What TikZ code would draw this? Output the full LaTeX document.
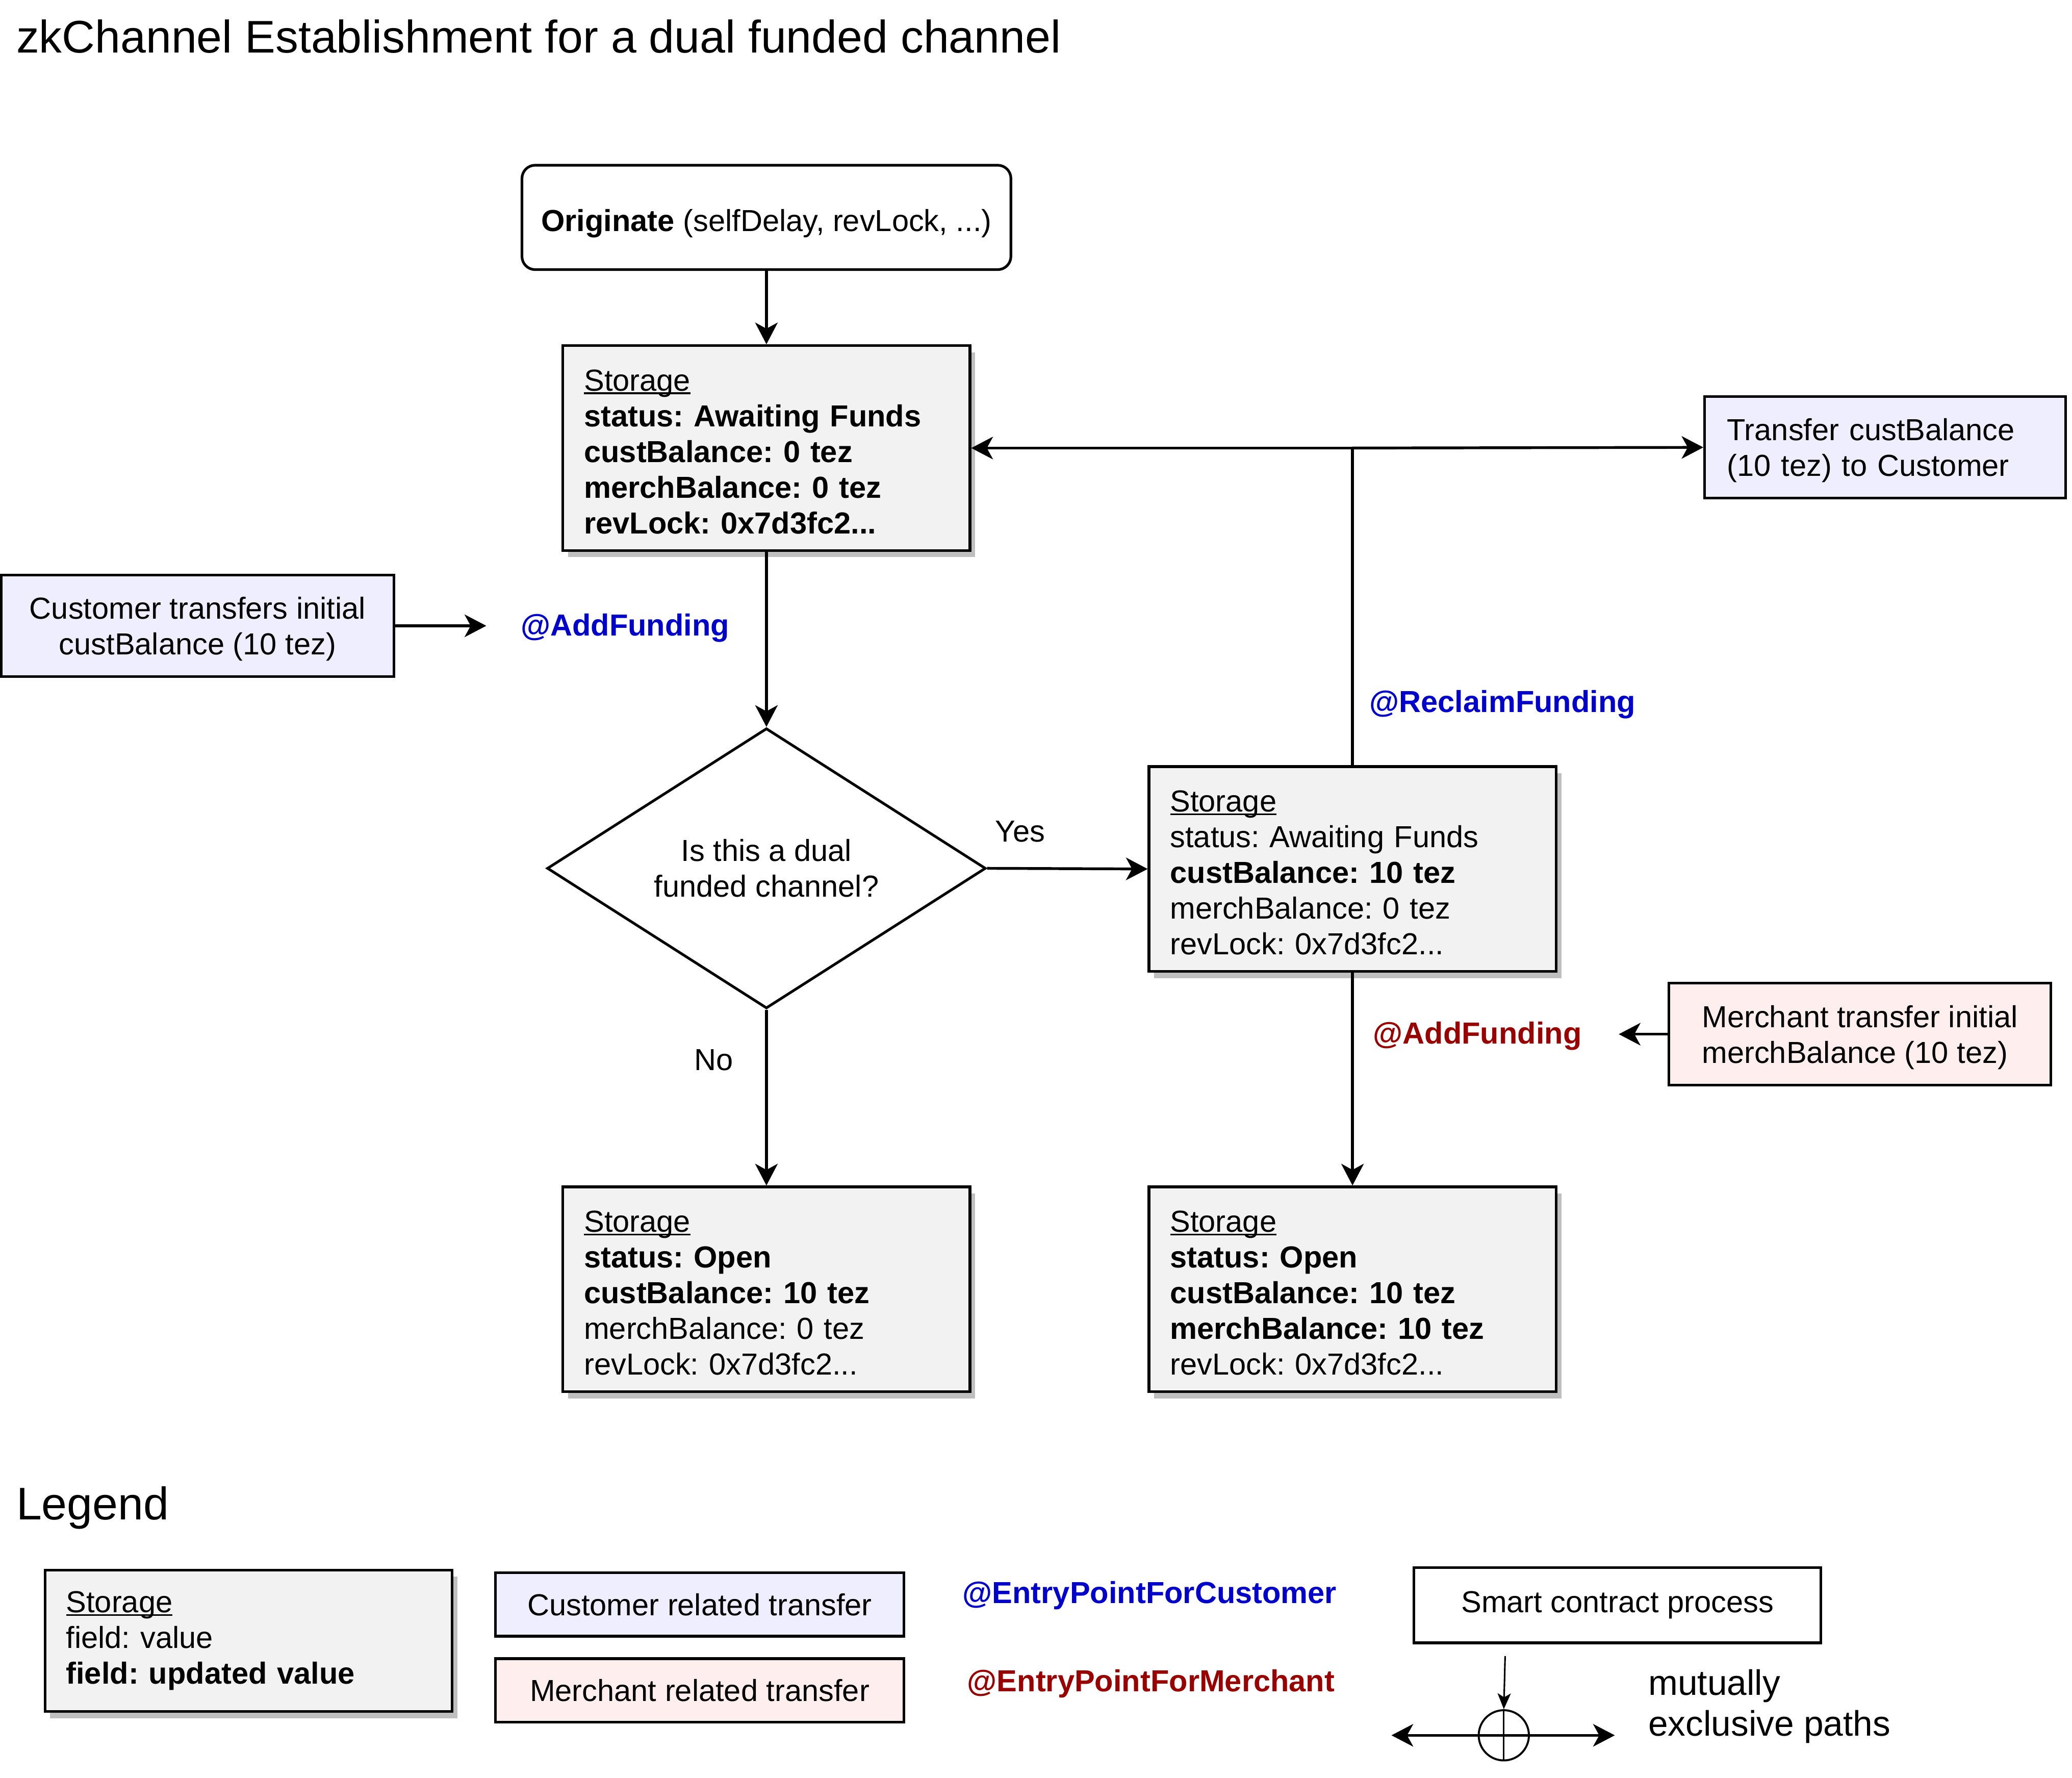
\documentclass[tikz,border=0pt]{standalone}
\usepackage{fontspec}
\setmainfont{Liberation Sans}
\usetikzlibrary{arrows.meta,shapes.geometric,shadows}
\definecolor{custfill}{HTML}{EEEEFF}
\definecolor{merchfill}{HTML}{FFEEEE}
\definecolor{storfill}{HTML}{F2F2F2}
\definecolor{custblue}{HTML}{0000CC}
\definecolor{merchred}{HTML}{990000}
\newcommand\bodyfs{\fontsize{11.5pt}{13.5pt}\selectfont}
\newcommand\titlefs{\fontsize{17.3pt}{20pt}\selectfont}
\newcommand\mutfs{\fontsize{13.4pt}{15.5pt}\selectfont}
\newcommand\stul[1]{\setbox0\hbox{#1}\rlap{\rule[-1.3pt]{\wd0}{0.7pt}}#1}
\newcommand\tstrut{\rule{0pt}{10.8pt}}
\frenchspacing
\begin{document}
\begin{tikzpicture}[x=0.5pt,y=-0.5pt,
  every node/.style={font=\bodyfs},
  conn/.style={line width=1.05pt, -{Stealth[length=8.2pt,width=8.5pt,inset=2.3pt]}},
  box/.style={draw, line width=1pt, inner sep=0pt},
  shadowed/.style={drop shadow={shadow xshift=2pt, shadow yshift=-2.5pt, fill=black!25, opacity=1}},
  storbox/.style={box, fill=storfill, shadowed, minimum width=154pt, minimum height=77.5pt,
    text width=138pt, align=left, inner xsep=8pt},
  custbox/.style={box, fill=custfill},
  merchbox/.style={box, fill=merchfill},
  custlbl/.style={text=custblue, font=\bodyfs\bfseries},
  merchlbl/.style={text=merchred, font=\bodyfs\bfseries},
]
\useasboundingbox (0,0) rectangle (1568,1345);

% title
\node[anchor=base west, inner sep=0pt, font=\titlefs] (title) at (12,40) {zkChannel Establishment for a dual funded channel};

% originate
\node[box, rounded corners=5pt, fill=white, minimum width=185pt, minimum height=39.5pt] (orig) at (580,164.5)
  {\rule{0pt}{13pt}\textbf{Originate} (selfDelay, revLock, ...)};

% storage 1
\node[storbox] (s1) at (580,339) {\tstrut\stul{Storage}\\\textbf{status: Awaiting Funds}\\\textbf{custBalance: 0 tez}\\\textbf{merchBalance: 0 tez}\\\textbf{revLock: 0x7d3fc2...}};

% customer transfer
\node[custbox, minimum width=148.5pt, minimum height=38.5pt, align=center] (cust) at (149.5,473.5)
  {\tstrut Customer transfers initial\\custBalance (10 tez)};
\coordinate (custend) at (368,473.5);
\node[custlbl] (af1) at (473,475) {@AddFunding};

% decision
\node[draw, line width=1pt, diamond, aspect=1.566, minimum width=166pt, minimum height=106pt,
  inner sep=0pt, align=center] (dia) at (580,657) {Is this a dual\\funded channel?};

% storage 2
\node[storbox] (s2) at (1023.5,657.5) {\tstrut\stul{Storage}\\status: Awaiting Funds\\\textbf{custBalance: 10 tez}\\merchBalance: 0 tez\\revLock: 0x7d3fc2...};

% transfer to customer
\node[custbox, minimum width=136.5pt, minimum height=38.5pt, text width=119.5pt, inner xsep=8.5pt, align=left] (tr) at (1426.5,338.5)
  {\tstrut Transfer custBalance\\(10 tez) to Customer};

% merchant transfer
\node[merchbox, minimum width=144.5pt, minimum height=38.5pt, inner xsep=12.5pt, align=left] (mt) at (1407.5,782.5)
  {\tstrut Merchant transfer initial\\merchBalance (10 tez)};
\coordinate (mtend) at (1225,782.5);
\node[merchlbl] (af2) at (1118,784) {@AddFunding};

\node[custlbl] (rf) at (1137,533) {@ReclaimFunding};

% storage 3 & 4
\node[storbox] (s3) at (580,975.5) {\tstrut\stul{Storage}\\\textbf{status: Open}\\\textbf{custBalance: 10 tez}\\merchBalance: 0 tez\\revLock: 0x7d3fc2...};
\node[storbox] (s4) at (1023.5,975.5) {\tstrut\stul{Storage}\\\textbf{status: Open}\\\textbf{custBalance: 10 tez}\\\textbf{merchBalance: 10 tez}\\revLock: 0x7d3fc2...};

% labels
\node (yes) at (772,629) {Yes};
\node (no) at (540,802) {No};

% connectors
\draw[conn] (orig) -- (s1);
\draw[conn] (cust.east) -- (custend);
\draw[conn] (s1) -- (dia.north);
\draw[conn] (dia.east) -- (s2.west);
\draw[conn] (dia.south) -- (s3.north);
\draw[line width=1.05pt] (s2.north) -- (s2.north |- s1.east) coordinate (junc);
\draw[conn] (junc) -- (s1.east);
\draw[conn] (junc) -- (tr.west);
\draw[conn] (s2.south) -- (s4.north);
\draw[conn] (mt.west) -- (mtend);

% legend
\node[anchor=base west, inner sep=0pt, font=\titlefs] (leg) at (12,1150) {Legend};
\node[storbox, minimum height=53.5pt] (lst) at (188,1241.5) {\stul{Storage}\\field: value\\\textbf{field: updated value}};
\node[custbox, minimum width=154.5pt, minimum height=24pt] (lcu) at (529.5,1214) {Customer related transfer};
\node[merchbox, minimum width=154.5pt, minimum height=24pt] (lme) at (529.5,1279) {Merchant related transfer};
\node[custlbl] (epc) at (870,1207) {@EntryPointForCustomer};
\node[merchlbl] (epm) at (871,1274) {@EntryPointForMerchant};
\node[box, fill=white, minimum width=154pt, minimum height=28.5pt] (sc) at (1224,1214.5) {Smart contract process};

\node[draw, circle, line width=0.75pt, minimum size=19pt, inner sep=0pt] (oc) at (1138,1313) {};
\coordinate (octop) at (1139,1253);
\coordinate (ocl) at (1053,1313);
\coordinate (ocr) at (1222,1313);
\draw[line width=0.6pt, -{Stealth[length=6pt,width=5pt,inset=1.5pt]}] (octop) -- (oc.north);
\draw[line width=0.6pt] (oc.north) -- (oc.south);
\draw[conn] (oc.center) -- (ocl);
\draw[conn] (oc.center) -- (ocr);
\node[anchor=west, inner sep=0pt, align=left, font=\mutfs] (mut) at (1247,1291) {mutually\\exclusive paths};
\end{tikzpicture}
\end{document}
